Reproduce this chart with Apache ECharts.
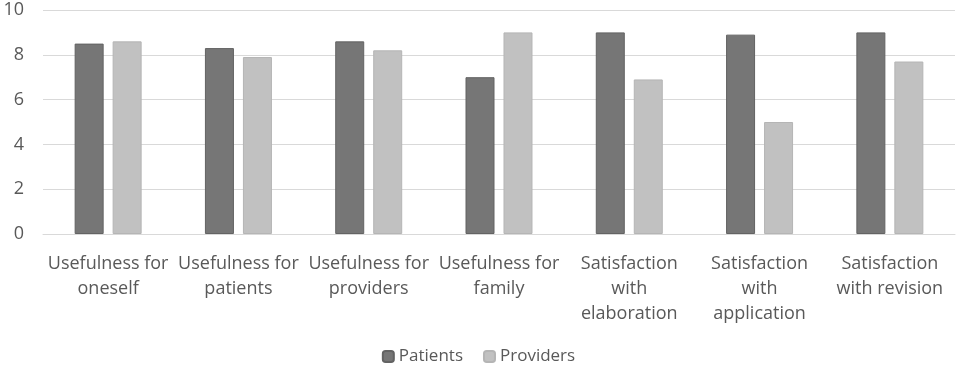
<!DOCTYPE html>
<html>
<head>
<meta charset="utf-8">
<script src="https://cdn.jsdelivr.net/npm/echarts@6/dist/echarts.min.js"></script>
<style>
  html, body { margin: 0; padding: 0; background: #fff; }
  #chart { width: 957px; height: 366px; }
</style>
</head>
<body>
<div id="chart"></div>
<script>
const categories = [
  "Usefulness for\noneself",
  "Usefulness for\npatients",
  "Usefulness for\nproviders",
  "Usefulness for\nfamily",
  "Satisfaction\nwith\nelaboration",
  "Satisfaction\nwith\napplication",
  "Satisfaction\nwith revision"
];
const patients = [8.5, 8.3, 8.6, 7.0, 9.0, 8.9, 9.0];
const providers = [8.6, 7.9, 8.2, 9.0, 6.9, 5.0, 7.7];

const font = "'Open Sans', sans-serif";

const chart = echarts.init(document.getElementById("chart"));
chart.setOption({
  animation: false,
  textStyle: { fontFamily: font },
  grid: { left: 43, right: 2, top: 10, bottom: 132 },
  legend: {
    data: ["Patients", "Providers"],
    top: 348,
    padding: 0,
    left: "center",
    itemWidth: 11,
    itemHeight: 11,
    itemGap: 20,
    textStyle: { fontFamily: font, fontSize: 17, color: "#595959" }
  },
  xAxis: {
    type: "category",
    data: categories,
    axisTick: { show: false },
    axisLine: { lineStyle: { color: "#d9d9d9", width: 1 } },
    axisLabel: {
      interval: 0,
      margin: 17,
      fontFamily: font,
      fontSize: 18,
      lineHeight: 25,
      color: "#595959"
    }
  },
  yAxis: {
    type: "value",
    min: 0,
    max: 10,
    interval: 2,
    axisLine: { show: false },
    axisTick: { show: false },
    splitLine: { lineStyle: { color: "#d9d9d9", width: 1 } },
    axisLabel: { fontFamily: font, fontSize: 18, color: "#595959", margin: 19 }
  },
  series: [
    {
      name: "Patients",
      type: "bar",
      data: patients,
      barWidth: 29,
      barGap: "31%",
      itemStyle: { color: "#767676", borderColor: "#636363", borderWidth: 1 }
    },
    {
      name: "Providers",
      type: "bar",
      data: providers,
      barWidth: 29,
      itemStyle: { color: "#c1c1c1", borderColor: "#b5b5b5", borderWidth: 1 }
    }
  ]
});
</script>
</body>
</html>
